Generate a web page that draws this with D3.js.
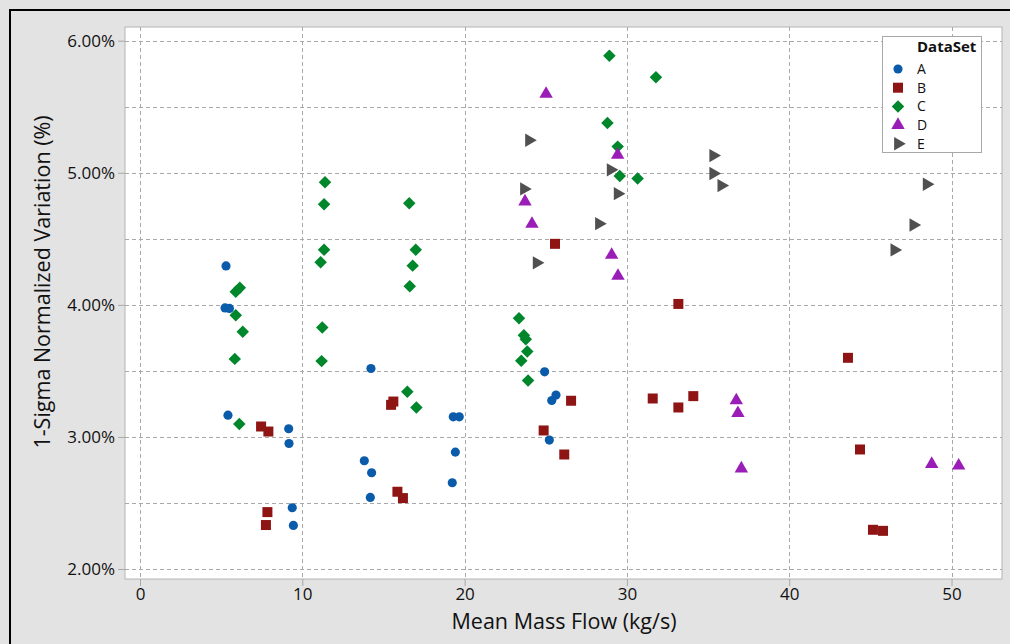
<!DOCTYPE html>
<html>
<head>
<meta charset="utf-8">
<script src="https://cdn.jsdelivr.net/npm/d3@7"></script>
<style>
  body { margin: 0; background: #e3e3e3; }
  svg { display: block; font-family: "Segoe UI", "Open Sans", sans-serif; }
</style>
</head>
<body>
<script>
// data: x = mean mass flow (kg/s), y = variation (%)
var setNames = ["A", "B", "C", "D", "E"];

var setA = [[5.30,4.295],[5.24,3.977],[5.51,3.973],[5.42,3.165],[9.16,3.062],[9.18,2.95],
  [9.38,2.464],[9.45,2.33],[14.23,3.518],[13.82,2.82],[14.27,2.729],[14.19,2.542],
  [19.3,3.152],[19.67,3.152],[19.43,2.885],[19.24,2.653],[24.93,3.493],[25.63,3.317],
  [25.37,3.276],[25.22,2.976]];
var setB = [[7.46,3.079],[7.91,3.041],[7.85,2.431],[7.76,2.333],[15.61,3.268],[15.47,3.243],
  [15.86,2.585],[16.2,2.537],[25.57,4.462],[26.56,3.274],[24.87,3.049],[26.14,2.867],
  [33.17,4.007],[31.59,3.291],[33.17,3.223],[34.09,3.309],[43.62,3.599],[44.36,2.905],
  [45.16,2.297],[45.78,2.289]];
var setC = [[11.4,4.928],[11.34,4.762],[16.59,4.77],[11.34,4.418],[11.13,4.323],[16.99,4.418],
  [16.8,4.297],[16.62,4.141],[5.9,4.10],[6.15,4.13],[5.9,3.922],[6.33,3.796],[5.84,3.591],
  [6.12,3.098],[11.23,3.828],[11.19,3.574],[16.47,3.342],[17.03,3.223],[28.92,5.886],
  [31.79,5.723],[28.8,5.377],[29.43,5.198],[29.56,4.976],[30.66,4.956],[23.35,3.899],
  [23.65,3.77],[23.77,3.74],[23.86,3.647],[23.49,3.576],[23.91,3.427]];
var setD = [[25.02,5.597],[29.43,5.135],[23.72,4.782],[24.15,4.613],[29.06,4.378],[29.45,4.219],
  [36.74,3.276],[36.84,3.18],[37.05,2.761],[48.78,2.795],[50.44,2.782]];
var setE = [[23.97,5.246],[35.32,5.13],[35.32,4.994],[35.82,4.903],[29.0,5.022],[23.66,4.878],
  [29.43,4.842],[28.28,4.615],[24.44,4.318],[48.47,4.913],[47.65,4.605],[46.48,4.416]];

var xTicks = [0, 10, 20, 30, 40, 50];
var yTicks = [2, 3, 4, 5, 6];
var yGrid = [2, 2.5, 3, 3.5, 4, 4.5, 5, 5.5, 6];

var colors = ["#0b5bab", "#8f1515", "#00862b", "#9b1db7", "#505050"];

function main(){
  var width = 1010, height = 644;
  var left = 125, right = 1002, top = 27, bottom = 579;

  var svg = d3.select("body").append("svg")
    .attr("width", width).attr("height", height);

  svg.append("rect").attr("width", width).attr("height", height).attr("fill", "#e3e3e3");
  // outer frame (only top and left edges are visible)
  svg.append("path").attr("d", "M10,644 L10,10 L1010,10")
    .attr("fill", "none").attr("stroke", "#000").attr("stroke-width", 2);

  var x = d3.scaleLinear().domain([-0.924, 53.11]).range([left, right]);
  var y = d3.scaleLinear().domain([1.9244, 6.1037]).range([bottom, top]);

  svg.append("rect")
    .attr("x", left).attr("y", top)
    .attr("width", right - left).attr("height", bottom - top)
    .attr("fill", "#fff").attr("stroke", "#b4b4b4");

  // grid
  svg.append("g").selectAll("line").data(yGrid).enter().append("line")
    .attr("x1", left).attr("x2", right)
    .attr("y1", d => Math.round(y(d)) + 0.5).attr("y2", d => Math.round(y(d)) + 0.5)
    .attr("stroke", "#a9a9a9").attr("stroke-dasharray", "4,3");
  svg.append("g").selectAll("line").data(xTicks).enter().append("line")
    .attr("y1", top).attr("y2", bottom)
    .attr("x1", d => Math.round(x(d)) + 0.5).attr("x2", d => Math.round(x(d)) + 0.5)
    .attr("stroke", "#a9a9a9").attr("stroke-dasharray", "4,3");

  // axes
  var yAxis = d3.axisLeft(y).tickValues(yTicks)
    .tickFormat(d => d3.format(".2f")(d) + "%").tickSizeOuter(0).tickSize(7).tickPadding(3);
  var gy = svg.append("g").attr("transform", "translate(" + left + ",0)").call(yAxis);
  var xAxis = d3.axisBottom(x).tickValues(xTicks).tickSizeOuter(0).tickSize(7).tickPadding(2);
  var gx = svg.append("g").attr("transform", "translate(0," + bottom + ")").call(xAxis);
  [gx, gy].forEach(function(g){
    g.select(".domain").remove();
    g.selectAll("line").attr("stroke", "#a9a9a9");
    g.selectAll("text").attr("fill", "#111").style("font-size", "17px")
      .style("font-family", "'Segoe UI', 'Open Sans', sans-serif");
  });

  svg.append("text")
    .attr("transform", "translate(50,282) rotate(-90)")
    .attr("text-anchor", "middle")
    .style("font-size", "21.5px").attr("fill", "#111")
    .text("1-Sigma Normalized Variation (%)");
  svg.append("text")
    .attr("x", 564).attr("y", 629)
    .attr("text-anchor", "middle")
    .style("font-size", "21.5px").attr("fill", "#111")
    .text("Mean Mass Flow (kg/s)");

  var shapes = [
    {type: d3.symbolCircle, size: 66, rot: 0},
    {type: d3.symbolSquare, size: 100, rot: 0},
    {type: d3.symbolSquare, size: 78, rot: 45},
    {type: d3.symbolTriangle, size: 78, rot: 0},
    {type: d3.symbolTriangle, size: 78, rot: 90}
  ];
  var sets = [setA, setB, setC, setD, setE];

  sets.forEach(function(data, i){
    var sym = d3.symbol().type(shapes[i].type).size(shapes[i].size);
    svg.append("g").selectAll("path").data(data).enter().append("path")
      .attr("d", sym)
      .attr("transform", d => "translate(" + x(d[0]) + "," + y(d[1]) + ") rotate(" + shapes[i].rot + ")")
      .attr("fill", colors[i]);
  });

  // legend
  var lg = svg.append("g").attr("transform", "translate(882,36)");
  lg.append("rect").attr("x", 0.5).attr("y", 0.5).attr("width", 99).attr("height", 116)
    .attr("fill", "#fff").attr("stroke", "#a8a8a8");
  lg.append("text").attr("x", 35).attr("y", 16).style("font-size", "15px")
    .style("font-weight", "bold").attr("fill", "#111").text("DataSet");
  setNames.forEach(function(name, i){
    var yy = 33 + i * 18.7;
    var sym = d3.symbol().type(shapes[i].type).size(shapes[i].size);
    lg.append("path").attr("d", sym)
      .attr("transform", "translate(16," + yy + ") rotate(" + shapes[i].rot + ")")
      .attr("fill", colors[i]);
    lg.append("text").attr("x", 35).attr("y", yy + 5).style("font-size", "14px")
      .attr("fill", "#111").text(name);
  });
}

main();
</script>
</body>
</html>
